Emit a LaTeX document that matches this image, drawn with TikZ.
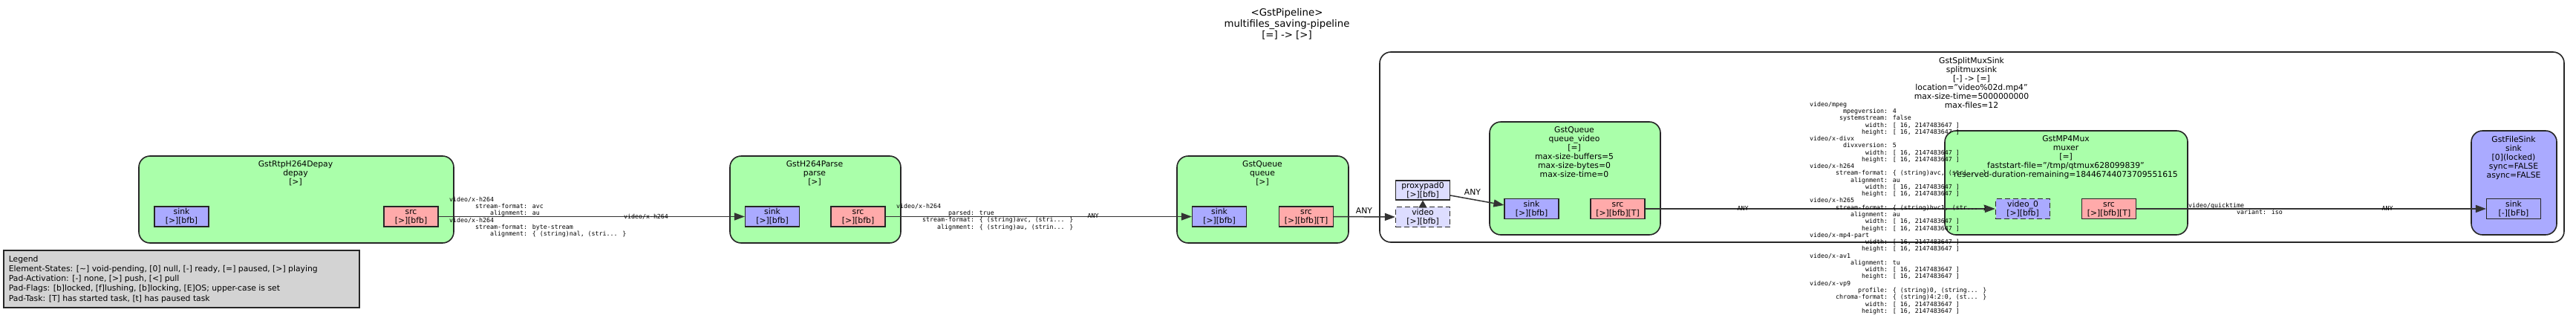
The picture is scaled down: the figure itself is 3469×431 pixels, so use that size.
\documentclass[tikz,border=0pt]{standalone}
\usepackage{fontspec}
\setmainfont{DejaVu Sans}
\newfontfamily\capsfont{DejaVu Sans Mono}
\usetikzlibrary{arrows.meta}
\definecolor{elemgreen}{HTML}{AAFFAA}
\definecolor{padsinkc}{HTML}{AAAAFF}
\definecolor{padsrcc}{HTML}{FFAAAA}
\definecolor{padghostc}{HTML}{DDDDFF}
\definecolor{legendgray}{HTML}{D3D3D3}
\newlength\capcw
\setlength\capcw{4.997pt}
\newcommand\ci[1]{\hspace*{#1\capcw}}
\newcommand\fla{\rule{0pt}{10pt}}
\newcommand\flb{\rule{0pt}{7pt}}
\newcommand\flc{\rule{0pt}{12pt}}
\newcommand\pfa{\rule{0pt}{8.5pt}}
\newcommand\pfb{\rule[-2.5pt]{0pt}{2.5pt}}
\newcommand\elfont{\fontsize{10.8}{12}\selectfont}
\newcommand\legfont{\fontsize{10.8}{13.2}\selectfont}
\newcommand\pipefont{\fontsize{13.3}{15.2}\selectfont}
\newcommand\capfont{\capsfont\fontsize{8.3}{9.27}\selectfont}
\newcommand\cwline{\ci{15}width: [ 16, 2147483647 ]}
\newcommand\chline{\ci{14}height: [ 16, 2147483647 ]}
\begin{document}
\begin{tikzpicture}[x=1pt, y=-1pt,
  elem/.style={draw=black!85, line width=1.6pt, fill=elemgreen, rounded corners=15pt, inner sep=0pt},
  sinkelem/.style={elem, fill=padsinkc},
  bin/.style={draw=black!85, line width=1.6pt, fill=white, rounded corners=15pt, inner sep=0pt},
  pad/.style={draw=black!85, line width=1.2pt, inner sep=0pt, align=center, font=\elfont, minimum width=73pt, minimum height=27pt},
  sinkpad/.style={pad, fill=padsinkc},
  srcpad/.style={pad, fill=padsrcc},
  ghostpad/.style={pad, fill=padghostc},
  reqdash/.style={dash pattern=on 7pt off 4pt},
  title/.style={anchor=north, inner sep=0pt, align=center, font=\elfont},
  caps/.style={anchor=north west, inner sep=0pt, align=left, font=\capfont},
  capsc/.style={anchor=base, inner sep=0pt, font=\capfont},
  lbl/.style={anchor=base, inner sep=0pt, font=\elfont},
  link/.style={draw=black!80, line width=1.5pt, -{Triangle[length=14pt,width=10pt]}}
]
\useasboundingbox (0,0) rectangle (3469,431);
\fill[white] (0,0) rectangle (3469,431);

% pipeline title
\node[title, font=\pipefont] (ptitle) at (1733, 9) {\flc<GstPipeline>\\multifiles\_saving-pipeline\\{[=] -> [>]}};

% elements
\node[elem, minimum width=424pt, minimum height=117pt] (depay) at (399, 268.5) {};
\node[elem, minimum width=230pt, minimum height=117pt] (parse) at (1098, 268.5) {};
\node[elem, minimum width=231pt, minimum height=117pt] (queue) at (1700.5, 268.5) {};
\node[bin, minimum width=1595pt, minimum height=256pt] (splitmux) at (2655.5, 198) {};
\node[elem, minimum width=230pt, minimum height=152pt] (queuevideo) at (2121, 240) {};
\node[elem, minimum width=327pt, minimum height=140pt] (muxer) at (2782.5, 246) {};
\node[sinkelem, minimum width=115pt, minimum height=140pt] (filesink) at (3385.5, 246) {};

% element titles
\node[title] (depayt) at (398, 214.5) {\fla GstRtpH264Depay\\depay\\{[>]}};
\node[title] (parset) at (1097, 214.5) {\fla GstH264Parse\\parse\\{[>]}};
\node[title] (queuet) at (1700, 214.5) {\fla GstQueue\\queue\\{[>]}};
\node[title] (splitmuxt) at (2655, 75) {\fla GstSplitMuxSink\\splitmuxsink\\{[-] -> [=]}\\location="video\%02d.mp4"\\max-size-time=5000000000\\max-files=12};
\node[title] (queuevideot) at (2120, 168) {\fla GstQueue\\queue\_video\\{[=]}\\max-size-buffers=5\\max-size-bytes=0\\max-size-time=0};
\node[title] (muxert) at (2782, 180) {\fla GstMP4Mux\\muxer\\{[=]}\\faststart-file="/tmp/qtmux628099839"\\reserved-duration-remaining=18446744073709551615};
\node[title] (filesinkt) at (3385, 181) {\fla GstFileSink\\sink\\{[0](locked)}\\sync=FALSE\\async=FALSE};

% pads
\node[sinkpad] (depaysink) at (244.5, 291.5) {\pfa sink\\{[>][bfb]}\pfb};
\node[srcpad] (depaysrc) at (553.5, 291.5) {\pfa src\\{[>][bfb]}\pfb};
\node[sinkpad] (parsesink) at (1040, 291.5) {\pfa sink\\{[>][bfb]}\pfb};
\node[srcpad] (parsesrc) at (1155.5, 291.5) {\pfa src\\{[>][bfb]}\pfb};
\node[sinkpad] (queuesink) at (1642, 291.5) {\pfa sink\\{[>][bfb]}\pfb};
\node[srcpad] (queuesrc) at (1759, 291.5) {\pfa src\\{[>][bfb][T]}\pfb};
\node[ghostpad, minimum height=26pt] (proxypad) at (1916, 256) {\pfa proxypad0\\{[>][bfb]}\pfb};
\node[ghostpad, reqdash] (videoghost) at (1916, 292) {\pfa video\\{[>][bfb]}\pfb};
\node[sinkpad] (qvsink) at (2062.5, 281) {\pfa sink\\{[>][bfb]}\pfb};
\node[srcpad] (qvsrc) at (2178.5, 281) {\pfa src\\{[>][bfb][T]}\pfb};
\node[sinkpad, reqdash] (muxvideo) at (2724, 281) {\pfa video\_0\\{[>][bfb]}\pfb};
\node[srcpad] (muxsrc) at (2840, 281) {\pfa src\\{[>][bfb][T]}\pfb};
\node[sinkpad] (fssink) at (3385, 281) {\pfa sink\\{[-][bFb]}\pfb};

% links
\draw[link] (depaysrc.east) -- (parsesink.west);
\draw[link] (parsesrc.east) -- (queuesink.west);
\draw[link] (queuesrc.east) -- (videoghost.west);
\draw[link, -{Triangle[length=10pt,width=11pt]}] (videoghost.north) -- (proxypad.south);
\draw[link] ([yshift=-7pt]proxypad.east) -- ([yshift=5pt]qvsink.west);
\draw[link] (qvsrc.east) -- (muxvideo.west);
\draw[link] (muxsrc.east) -- (fssink.west);

% link labels
\node[caps] (capsdepaysrc) at (605, 264) {\flb video/x-h264\\\ci{7}stream-format: avc\\\ci{11}alignment: au};
\node[caps] (capsparsesink) at (605, 292) {\flb video/x-h264\\\ci{7}stream-format: byte-stream\\\ci{11}alignment: \{ (string)nal, (stri... \}};
\node[capsc] (midh264) at (870, 294) {video/x-h264};
\node[caps] (capsparsesrc) at (1207, 273) {\flb video/x-h264\\\ci{14}parsed: true\\\ci{7}stream-format: \{ (string)avc, (stri... \}\\\ci{11}alignment: \{ (string)au, (strin... \}};
\node[capsc] (anyqueue) at (1472, 293) {ANY};
\node[lbl] (anyghost) at (1837, 287) {ANY};
\node[lbl] (anyproxy) at (1983, 262) {ANY};
\node[capsc] (anyqv) at (2347, 283) {ANY};
\node[caps] (capsmux) at (2437, 136) {\flb video/mpeg\\
\ci{9}mpegversion: 4\\
\ci{8}systemstream: false\\
\cwline\\ \chline\\
video/x-divx\\
\ci{9}divxversion: 5\\
\cwline\\ \chline\\
video/x-h264\\
\ci{7}stream-format: \{ (string)avc, (stri... \}\\
\ci{11}alignment: au\\
\cwline\\ \chline\\
video/x-h265\\
\ci{7}stream-format: \{ (string)hvc1, (str... \}\\
\ci{11}alignment: au\\
\cwline\\ \chline\\
video/x-mp4-part\\
\cwline\\ \chline\\
video/x-av1\\
\ci{11}alignment: tu\\
\cwline\\ \chline\\
video/x-vp9\\
\ci{13}profile: \{ (string)0, (string... \}\\
\ci{7}chroma-format: \{ (string)4:2:0, (st... \}\\
\cwline\\ \chline};
\node[caps] (capsqt) at (2947, 272) {\flb video/quicktime\\\ci{13}variant: iso};
\node[capsc] (anyfs) at (3215, 283) {ANY};

% legend
\node[draw=black!85, line width=1.3pt, fill=legendgray, minimum width=479pt, minimum height=77pt, inner sep=0pt] (legend) at (244.5, 375.5) {};
\node[anchor=north west, inner sep=0pt, align=left, font=\legfont] (legendtext) at (11.7, 342) {\fla Legend\\Element-States: [\textasciitilde] void-pending, [0] null, [-] ready, [=] paused, [>] playing\\Pad-Activation: [-] none, [>] push, [<] pull\\Pad-Flags: [b]locked, [f]lushing, [b]locking, [E]OS; upper-case is set\\Pad-Task: [T] has started task, [t] has paused task};
\end{tikzpicture}
\end{document}
